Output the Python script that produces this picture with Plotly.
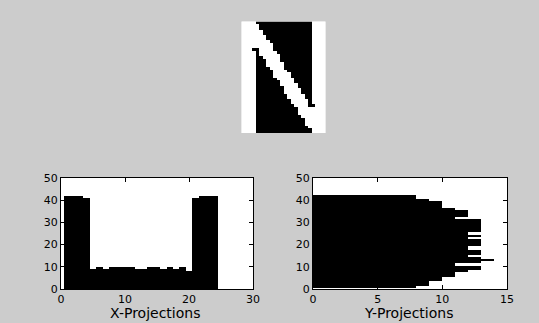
import plotly.graph_objects as go

# Binary glyph of the letter "N" (42 rows x 24 columns), '#' = letter pixel
glyph_rows = [
    "####................####",
    "#####...............####",
    "#####...............####",
    "######..............####",
    "######..............####",
    "#######.............####",
    "#######.............####",
    "########............####",
    "#########...........####",
    "#########...........####",
    "###..####...........####",
    "####.#####..........####",
    "####.######.........####",
    "####..#####.........####",
    "####...####.........####",
    "####...#####........####",
    "####...#####........####",
    "####....####........####",
    "####.....####.......####",
    "####.....#####......####",
    "####.....#####......####",
    "####......#####.....####",
    "####.......####.....####",
    "####.......#####....####",
    "####........####....####",
    "####........#####...####",
    "####........#####...####",
    "####.........#####..####",
    "####.........#####..####",
    "####..........#####.####",
    "####..........#####.####",
    "####...........####..###",
    "####............########",
    "####............########",
    "####............########",
    "####.............#######",
    "####..............######",
    "####..............######",
    "####..............######",
    "####...............#####",
    "####................####",
    "####................####",
]

# Column sums (X-projections), columns 1..24
x_cols = list(range(1, 25))
x_proj = [42, 42, 42, 41, 9, 10, 9, 10, 10, 10, 10, 9,
          9, 10, 10, 9, 10, 9, 10, 8, 41, 42, 42, 42]

# Row sums (Y-projections), rows 1..42
y_rows = list(range(1, 43))
y_proj = [8, 9, 9, 10, 10, 11, 11, 12, 13, 13,
          11, 13, 14, 13, 12, 13, 13, 12, 12, 13,
          13, 13, 12, 13, 12, 13, 13, 13, 13, 13,
          13, 11, 12, 12, 12, 11, 10, 10, 10, 9,
          8, 8]

x_ticks = [0, 10, 20, 30]
y_ticks = [0, 10, 20, 30, 40, 50]
yp_ticks = [0, 5, 10, 15]

W, H = 539, 323
BG = "#cccccc"
FONT = "DejaVu Sans, Verdana, sans-serif"

z = [[1 if ch == "#" else 0 for ch in row] for row in glyph_rows]

fig = go.Figure()

fig.add_trace(go.Heatmap(
    z=z, x=list(range(24)), y=list(range(42)),
    colorscale=[[0, "black"], [1, "white"]], zmin=0, zmax=1,
    showscale=False, zsmooth=False, hoverinfo="skip",
    xaxis="x3", yaxis="y3",
))

fig.add_trace(go.Bar(
    x=x_cols, y=x_proj, width=1,
    marker=dict(color="black", line=dict(width=0)),
    xaxis="x", yaxis="y",
))

fig.add_trace(go.Bar(
    x=y_proj, y=y_rows, width=1, orientation="h",
    marker=dict(color="black", line=dict(width=0)),
    xaxis="x2", yaxis="y2",
))


def px(v, total):
    return v / total


box_axis = dict(
    showline=True, linecolor="black", linewidth=1, mirror="ticks",
    ticks="inside", ticklen=4, tickcolor="black", showgrid=False,
    zeroline=False, automargin=False,
    tickfont=dict(family=FONT, size=11, color="black"),
)

fig.update_layout(
    width=W, height=H, autosize=False,
    margin=dict(l=0, r=0, t=0, b=0),
    paper_bgcolor=BG, plot_bgcolor="white",
    showlegend=False, bargap=0,
    xaxis=dict(domain=[px(61, W), px(253, W)], range=[0, 30],
               tickvals=x_ticks, anchor="y", **box_axis),
    yaxis=dict(domain=[1 - px(289, H), 1 - px(178, H)], range=[0, 50],
               tickvals=y_ticks, anchor="x", **box_axis),
    xaxis2=dict(domain=[px(313, W), px(507, W)], range=[0, 15],
                tickvals=yp_ticks, anchor="y2", **box_axis),
    yaxis2=dict(domain=[1 - px(289, H), 1 - px(178, H)], range=[0, 50],
                tickvals=y_ticks, anchor="x2", **box_axis),
    xaxis3=dict(domain=[px(241.5, W), px(325.5, W)], range=[-0.5, 23.5],
                visible=False, anchor="y3"),
    yaxis3=dict(domain=[1 - px(133, H), 1 - px(21.5, H)], range=[41.5, -0.5],
                visible=False, anchor="x3"),
    annotations=[
        dict(text="X-Projections", x=px(155, W), y=0,
             xref="paper", yref="paper", showarrow=False,
             xanchor="center", yanchor="bottom",
             font=dict(family=FONT, size=14, color="black")),
        dict(text="Y-Projections", x=px(408, W), y=0,
             xref="paper", yref="paper", showarrow=False,
             xanchor="center", yanchor="bottom",
             font=dict(family=FONT, size=14, color="black")),
    ],
)

fig.write_html("out.html")
